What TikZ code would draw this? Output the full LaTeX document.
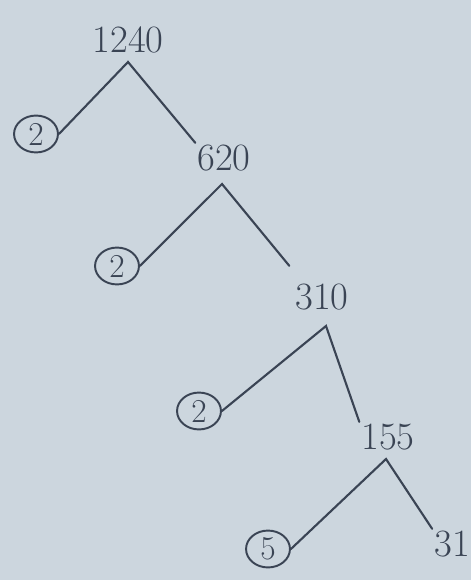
\documentclass[tikz,border=0pt]{standalone}
\usetikzlibrary{positioning,shapes.geometric}
\definecolor{paper}{RGB}{204,214,222}
\definecolor{pencil}{RGB}{58,68,84}
\tikzset{
  num/.style={text=pencil,font=\fontsize{22}{24}\selectfont,inner sep=1pt},
  factor/.style={num,font=\fontsize{19}{21}\selectfont,draw=pencil,ellipse,line width=1.1pt,inner sep=0pt,minimum width=25pt,minimum height=21pt},
  branch/.style={draw=pencil,line width=1.2pt,line cap=round}
}
\begin{document}
\begin{tikzpicture}[x=0.02cm,y=-0.02cm]
  \fill[paper] (0,0) rectangle (471,580);
  \useasboundingbox (0,0) rectangle (471,580);
  % numbers being split
  \node[num] (n1240) at (128,40) {1240};
  \node[num] (n620) at (224,158) {620};
  \node[num] (n310) at (322,297) {310};
  \node[num] (n155) at (388,437) {155};
  \node[num] (n31) at (452,544) {31};
  % prime factors
  \node[factor] (f2a) at (36,134) {2};
  \node[factor] (f2b) at (117,266) {2};
  \node[factor] (f2c) at (199,411) {2};
  \node[factor] (f5) at (268,549) {5};
  % branches
  \coordinate (b1) at (128,62);
  \coordinate (b2) at (222,184);
  \coordinate (b3) at (326,326);
  \coordinate (b4) at (386,459);
  \draw[branch] (f2a.east) -- (b1) -- (n620.north west);
  \draw[branch] (f2b.east) -- (b2) -- ([shift={(-4,-16)}]n310.north west);
  \draw[branch] (f2c.east) -- (b3) -- (n155.north west);
  \draw[branch] (f5.east) -- (b4) -- (n31.north west);
\end{tikzpicture}
\end{document}
